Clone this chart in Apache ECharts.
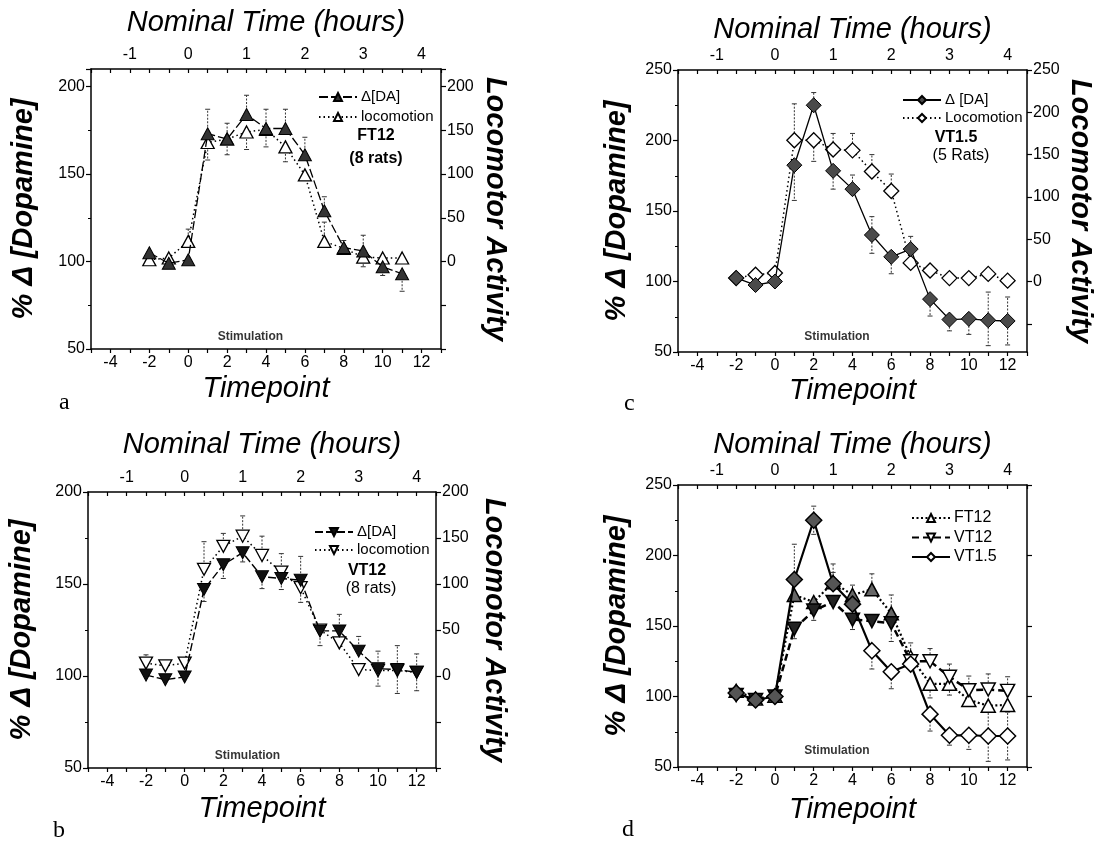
<!DOCTYPE html>
<html>
<head>
<meta charset="utf-8">
<script src="https://cdn.jsdelivr.net/npm/echarts@6/dist/echarts.min.js"></script>
<style>
  html, body { margin: 0; padding: 0; background: #fff; }
  #chart { width: 1105px; height: 846px; }
</style>
</head>
<body>
<div id="chart"></div>
<script>
// ---------------- DATA ----------------
const T_A   = [-2, -1, 0, 1, 2, 3, 4, 5, 6, 7, 8, 9, 10, 11];
const T_ALL = [-2, -1, 0, 1, 2, 3, 4, 5, 6, 7, 8, 9, 10, 11, 12];
const HOURS_PER_TIMEPOINT = 1 / 3;

// panel a : FT12 (8 rats)
const A_DA      = [105, 99, 101, 173, 170, 184, 176, 176, 161, 129, 108, 106, 97, 93];
const A_DA_UP   = [0, 0, 0, 14, 9, 11, 11, 11, 10, 8, 4, 9, 0, 0];
const A_DA_DN   = [0, 0, 0, 0, 0, 0, 0, 0, 0, 0, 0, 0, 5, 10];
const A_LOC     = [2, 4, 23, 136, 140, 148, 151, 131, 99, 23, 15, 5, 4, 4];
const A_LOC_UP  = [0, 0, 14, 0, 0, 0, 0, 0, 0, 22, 0, 0, 0, 0];
const A_LOC_DN  = [0, 0, 0, 20, 18, 20, 20, 17, 0, 0, 0, 11, 0, 0];

// panel b : VT12 (8 rats)
const B_DA      = [100.5, 98, 99.5, 147, 160.5, 167, 154, 153, 152, 124.5, 124.5, 113.5, 104, 103.5, 102];
const B_DA_UP   = [0, 0, 0, 0, 0, 0, 0, 0, 13, 0, 9, 8, 9.5, 13, 10];
const B_DA_DN   = [0, 0, 0, 6.5, 7.5, 5, 6.5, 6, 0, 8, 0, 0, 9.5, 13, 10];
const B_LOC     = [14, 11, 14, 116, 141, 152, 131, 113, 96, 50, 36, 7, 6, 6, 4];
const B_LOC_UP  = [9, 0, 0, 30, 14, 22, 21, 20, 0, 0, 0, 0, 0, 0, 0];
const B_LOC_DN  = [0, 0, 0, 0, 0, 0, 0, 0, 16, 0, 0, 0, 0, 0, 0];

// panel c : VT1.5 (5 Rats)
const C_DA      = [102.5, 97.5, 100, 182.5, 225, 178.5, 165.5, 133, 117.5, 123, 87.5, 73, 73.5, 72.5, 72];
const C_DA_UP   = [0, 0, 0, 0, 9, 0, 10, 13, 0, 9, 0, 0, 0, 20, 17];
const C_DA_DN   = [0, 0, 0, 25, 0, 13, 0, 13, 12, 0, 12, 8, 11, 18, 17];
const C_LOC     = [4, 8, 10, 167, 167, 156, 155, 130, 107, 22, 13, 4, 4, 9, 1];
const C_LOC_UP  = [0, 0, 0, 43, 0, 19, 20, 20, 20, 0, 0, 0, 0, 0, 0];
const C_LOC_DN  = [0, 0, 0, 0, 25, 0, 0, 0, 0, 0, 0, 0, 0, 0, 0];

// panel d : comparison of %Δ[DA]
const D_FT12      = [104, 98.5, 100.5, 172, 167, 181, 172, 176, 159, 128, 109, 109, 97.5, 93.5, 94];
const D_FT12_UP   = [0, 0, 0, 0, 0, 7, 7, 11, 13, 10, 0, 0, 0, 0, 0];
const D_FT12_DN   = [0, 0, 0, 0, 0, 0, 0, 0, 0, 0, 10, 8, 0, 0, 0];
const D_FT12_FILL = [1, 1, 1, 1, 1, 1, 1, 1, 1, 0, 0, 0, 0, 0, 0];
const D_VT12      = [101, 97.5, 100, 148, 161, 167, 154.5, 153.5, 152, 125, 125, 114, 104.5, 105, 104];
const D_VT12_UP   = [0, 0, 0, 0, 0, 0, 0, 0, 0, 0, 9, 9, 10, 11, 10];
const D_VT12_DN   = [0, 0, 0, 7, 7, 0, 7, 0, 13, 0, 0, 0, 0, 0, 0];
const D_VT12_FILL = [1, 1, 1, 1, 1, 1, 1, 1, 1, 0, 0, 0, 0, 0, 0];
const D_VT15      = [102.5, 97.5, 100, 183, 225, 180, 165.5, 132.5, 117.5, 123, 87.5, 72.5, 72.5, 72, 72];
const D_VT15_UP   = [0, 0, 0, 25, 10, 14, 0, 0, 0, 0, 0, 0, 0, 20, 17];
const D_VT15_DN   = [0, 0, 0, 0, 10, 0, 0, 13, 12, 0, 12, 7, 10, 18, 17];
const D_VT15_FILL = [1, 1, 1, 1, 1, 1, 1, 0, 0, 0, 0, 0, 0, 0, 0];

// "Stimulation" annotation anchor (timepoint, %Δ[DA])
const STIM_A = [3.2, 57.3];
const STIM_B = [3.25, 56.7];
const STIM_C = [3.2, 61];
const STIM_D = [3.2, 61.5];

// ---------------- STYLE / LAYOUT ----------------
const FONT = "'Liberation Sans', Arial, Helvetica, sans-serif";
const SERIF = "'Liberation Serif', 'Times New Roman', serif";
const GRIDS = [
  { left: 91,  top: 69,  width: 350, height: 280 },  // a
  { left: 88,  top: 492, width: 348, height: 276 },  // b
  { left: 678, top: 70,  width: 349, height: 282 },  // c
  { left: 678, top: 485, width: 349, height: 282 }   // d
];
const AXLINE = { show: true, onZero: false, lineStyle: { color: '#000', width: 1.5 } };
const TICKSTYLE = { color: '#000', width: 1.2 };
const LBL = { color: '#000', fontSize: 16, fontFamily: FONT };

function xAxes(gi, botGap, topGap) {
  return [
    {
      gridIndex: gi, type: 'value', position: 'bottom', min: -5, max: 13, interval: 1,
      axisLine: AXLINE, splitLine: { show: false },
      axisTick: { inside: false, length: 4, lineStyle: TICKSTYLE },
      axisLabel: Object.assign({ margin: 6, formatter: v => (v % 2 === 0 && v >= -4 && v <= 12) ? String(v) : '' }, LBL),
      name: 'Timepoint', nameLocation: 'middle', nameGap: botGap,
      nameTextStyle: { fontFamily: FONT, fontStyle: 'italic', fontSize: 29, color: '#000' }
    },
    {
      gridIndex: gi, type: 'value', position: 'top', min: -5, max: 13, interval: 1,
      axisLine: AXLINE, splitLine: { show: false },
      axisTick: { inside: true, length: 4, lineStyle: TICKSTYLE },
      axisLabel: Object.assign({ margin: 6, formatter: v => (v % 3 === 0) ? String(Math.round(v * HOURS_PER_TIMEPOINT)) : '' }, LBL),
      name: 'Nominal Time (hours)', nameLocation: 'middle', nameGap: topGap,
      nameTextStyle: { fontFamily: FONT, fontStyle: 'italic', fontSize: 29, color: '#000' }
    }
  ];
}

function leftY(gi, min, max, gap) {
  return {
    gridIndex: gi, type: 'value', position: 'left', min: min, max: max, interval: 50,
    axisLine: AXLINE, splitLine: { show: false },
    axisTick: { inside: false, length: 5, lineStyle: TICKSTYLE },
    minorTick: { show: true, splitNumber: 2, length: 3, lineStyle: { color: '#000', width: 1 } },
    axisLabel: Object.assign({ margin: 6, formatter: v => (v % 50 === 0) ? String(v) : '' }, LBL),
    name: '% \u0394 [Dopamine]', nameLocation: 'middle', nameGap: gap,
    nameTextStyle: { fontFamily: FONT, fontStyle: 'italic', fontWeight: 'bold', fontSize: 29, color: '#000' }
  };
}

function rightY(gi, min, max, gap, custom) {
  const ax = {
    gridIndex: gi, type: 'value', position: 'right', min: min, max: max,
    axisLine: AXLINE, splitLine: { show: false },
    axisTick: { inside: false, length: 5, lineStyle: TICKSTYLE },
    axisLabel: Object.assign({ margin: 6, formatter: v => (v >= 0 && Math.abs(v % 50) < 1e-6) ? String(Math.round(v)) : '' }, LBL),
    name: 'Locomotor Activity', nameLocation: 'middle', nameGap: gap, nameRotate: -90,
    nameTextStyle: { fontFamily: FONT, fontStyle: 'italic', fontWeight: 'bold', fontSize: 29, color: '#000' }
  };
  if (custom) {
    ax.axisTick.customValues = [-50, 0, 50, 100, 150, 200, 250];
    ax.axisLabel.customValues = [0, 50, 100, 150, 200, 250];
  } else {
    ax.interval = 50;
  }
  return ax;
}

function pairs(xs, ys, fill, fillColor) {
  return xs.map((t, i) => {
    const o = { value: [t, ys[i]] };
    if (fill && fill[i]) o.itemStyle = { color: fillColor };
    return o;
  });
}

function errSeries(xi, yi, xs, ys, up, dn) {
  return {
    type: 'custom', xAxisIndex: xi, yAxisIndex: yi, silent: true, z: 1,
    data: xs.map((t, i) => [t, ys[i], up[i], dn[i]]),
    renderItem: function (params, api) {
      const t = api.value(0), v = api.value(1), u = api.value(2), d = api.value(3);
      const c = api.coord([t, v]);
      const kids = [];
      const st = { stroke: '#333', lineWidth: 1, lineDash: [2, 1.5] };
      const cap = { stroke: '#333', lineWidth: 1 };
      if (u > 0) {
        const p = api.coord([t, v + u]);
        kids.push({ type: 'line', shape: { x1: c[0], y1: c[1], x2: p[0], y2: p[1] }, style: st });
        kids.push({ type: 'line', shape: { x1: p[0] - 2.5, y1: p[1], x2: p[0] + 2.5, y2: p[1] }, style: cap });
      }
      if (d > 0) {
        const p = api.coord([t, v - d]);
        kids.push({ type: 'line', shape: { x1: c[0], y1: c[1], x2: p[0], y2: p[1] }, style: st });
        kids.push({ type: 'line', shape: { x1: p[0] - 2.5, y1: p[1], x2: p[0] + 2.5, y2: p[1] }, style: cap });
      }
      return { type: 'group', children: kids };
    }
  };
}

function stimSeries(xi, yi, pos) {
  return {
    type: 'scatter', xAxisIndex: xi, yAxisIndex: yi, silent: true,
    data: [pos], symbol: 'circle', symbolSize: 1, itemStyle: { color: 'rgba(0,0,0,0)' },
    label: { show: true, position: 'inside', formatter: 'Stimulation', color: '#000',
             fontFamily: FONT, fontWeight: 'bold', fontSize: 12 }
  };
}

const OPEN = { color: '#fff', borderColor: '#000', borderWidth: 1.3 };
const DOTTED = { color: '#000', width: 1.5, type: [1.5, 3] };

function legend(left, top, names, size, pitch) {
  return {
    left: left, top: top, orient: 'vertical', padding: 0, itemGap: pitch - 16,
    itemWidth: 38, itemHeight: 10, selectedMode: false,
    data: names, formatter: n => n.split('|')[1],
    textStyle: { fontFamily: FONT, fontSize: size, lineHeight: 16, color: '#000', padding: [0, 0, 0, -1] }
  };
}

function txt(text, left, top, size, weight, family, align) {
  return { text: text, left: left, top: top, padding: 0, textAlign: align || 'center',
           textStyle: { fontFamily: family || FONT, fontSize: size, fontWeight: weight || 'normal', color: '#000' } };
}

const option = {
  backgroundColor: '#fff',
  animation: false,
  grid: GRIDS.map(g => Object.assign({ containLabel: false }, g)),
  xAxis: [].concat(xAxes(0, 25, 32), xAxes(1, 26, 33), xAxes(2, 24, 26), xAxes(3, 28, 26)),
  yAxis: [
    leftY(0, 50, 210, 53), rightY(0, -100, 220, 39, false),
    leftY(1, 50, 200, 52), rightY(1, -100, 200, 43, false),
    leftY(2, 50, 250, 47), rightY(2, -250 / 3, 250, 38, true),
    leftY(3, 50, 250, 47),
    Object.assign(rightY(3, 50, 250, 0, false), { name: '', axisLabel: { show: false } })
  ],
  legend: [
    legend(318, 89, ['a|\u0394[DA]', 'a|locomotion'], 15, 20),
    legend(314, 524, ['b|\u0394[DA]', 'b|locomotion'], 15, 18),
    legend(902, 92, ['c|\u0394 [DA]', 'c|Locomotion'], 15, 18),
    legend(911, 510, ['d|FT12', 'd|VT12', 'd|VT1.5'], 16, 19.5)
  ],
  title: [
    txt('FT12', 376, 128, 16, 'bold'),
    txt('(8 rats)', 376, 151, 16, 'bold'),
    txt('VT12', 367, 563, 16, 'bold'),
    txt('(8 rats)', 371, 581, 16),
    txt('VT1.5', 956, 130, 16, 'bold'),
    txt('(5 Rats)', 961, 148, 16),
    txt('a', 59, 391, 24, 'normal', SERIF, 'left'),
    txt('b', 53, 819, 24, 'normal', SERIF, 'left'),
    txt('c', 624, 392, 24, 'normal', SERIF, 'left'),
    txt('d', 622, 818, 24, 'normal', SERIF, 'left')
  ],
  series: [
    // ---- panel a ----
    errSeries(0, 1, T_A, A_LOC, A_LOC_UP, A_LOC_DN),
    errSeries(0, 0, T_A, A_DA, A_DA_UP, A_DA_DN),
    { name: 'a|locomotion', type: 'line', xAxisIndex: 0, yAxisIndex: 1, data: pairs(T_A, A_LOC),
      symbol: 'triangle', symbolSize: [13, 12], lineStyle: DOTTED, itemStyle: OPEN, z: 3 },
    { name: 'a|\u0394[DA]', type: 'line', xAxisIndex: 0, yAxisIndex: 0, data: pairs(T_A, A_DA),
      symbol: 'triangle', symbolSize: [13, 12], lineStyle: { color: '#000', width: 1.3, type: [9, 3] },
      itemStyle: { color: '#333', borderColor: '#000', borderWidth: 1 }, z: 4 },
    stimSeries(0, 0, STIM_A),
    // ---- panel b ----
    errSeries(2, 3, T_ALL, B_LOC, B_LOC_UP, B_LOC_DN),
    errSeries(2, 2, T_ALL, B_DA, B_DA_UP, B_DA_DN),
    { name: 'b|locomotion', type: 'line', xAxisIndex: 2, yAxisIndex: 3, data: pairs(T_ALL, B_LOC),
      symbol: 'triangle', symbolRotate: 180, symbolSize: [13, 12], lineStyle: DOTTED, itemStyle: OPEN, z: 3 },
    { name: 'b|\u0394[DA]', type: 'line', xAxisIndex: 2, yAxisIndex: 2, data: pairs(T_ALL, B_DA),
      symbol: 'triangle', symbolRotate: 180, symbolSize: [13, 12], lineStyle: { color: '#000', width: 1.4, type: [8, 3] },
      itemStyle: { color: '#111', borderColor: '#000', borderWidth: 1 }, z: 4 },
    stimSeries(2, 2, STIM_B),
    // ---- panel c ----
    errSeries(4, 5, T_ALL, C_LOC, C_LOC_UP, C_LOC_DN),
    errSeries(4, 4, T_ALL, C_DA, C_DA_UP, C_DA_DN),
    { name: 'c|Locomotion', type: 'line', xAxisIndex: 4, yAxisIndex: 5, data: pairs(T_ALL, C_LOC),
      symbol: 'diamond', symbolSize: 15, lineStyle: DOTTED, itemStyle: OPEN, z: 3 },
    { name: 'c|\u0394 [DA]', type: 'line', xAxisIndex: 4, yAxisIndex: 4, data: pairs(T_ALL, C_DA),
      symbol: 'diamond', symbolSize: 15, lineStyle: { color: '#000', width: 1.3 },
      itemStyle: { color: '#4a4a4a', borderColor: '#000', borderWidth: 1 }, z: 4 },
    stimSeries(4, 4, STIM_C),
    // ---- panel d ----
    errSeries(6, 6, T_ALL, D_FT12, D_FT12_UP, D_FT12_DN),
    errSeries(6, 6, T_ALL, D_VT12, D_VT12_UP, D_VT12_DN),
    errSeries(6, 6, T_ALL, D_VT15, D_VT15_UP, D_VT15_DN),
    { name: 'd|FT12', type: 'line', xAxisIndex: 6, yAxisIndex: 6, data: pairs(T_ALL, D_FT12, D_FT12_FILL, '#666'),
      symbol: 'triangle', symbolSize: [14, 13], lineStyle: { color: '#000', width: 2.2, type: [2, 2.5] },
      itemStyle: { color: '#fff', borderColor: '#000', borderWidth: 1.5 }, z: 3 },
    { name: 'd|VT12', type: 'line', xAxisIndex: 6, yAxisIndex: 6, data: pairs(T_ALL, D_VT12, D_VT12_FILL, '#222'),
      symbol: 'triangle', symbolRotate: 180, symbolSize: [14, 13], lineStyle: { color: '#000', width: 2.5, type: [7, 4] },
      itemStyle: { color: '#fff', borderColor: '#000', borderWidth: 1.5 }, z: 4 },
    { name: 'd|VT1.5', type: 'line', xAxisIndex: 6, yAxisIndex: 6, data: pairs(T_ALL, D_VT15, D_VT15_FILL, '#555'),
      symbol: 'diamond', symbolSize: 16, lineStyle: { color: '#000', width: 2.2 },
      itemStyle: { color: '#fff', borderColor: '#000', borderWidth: 1.5 }, z: 5 },
    stimSeries(6, 6, STIM_D)
  ]
};

const chart = echarts.init(document.getElementById('chart'), null, { renderer: 'canvas' });
chart.setOption(option);
</script>
</body>
</html>
